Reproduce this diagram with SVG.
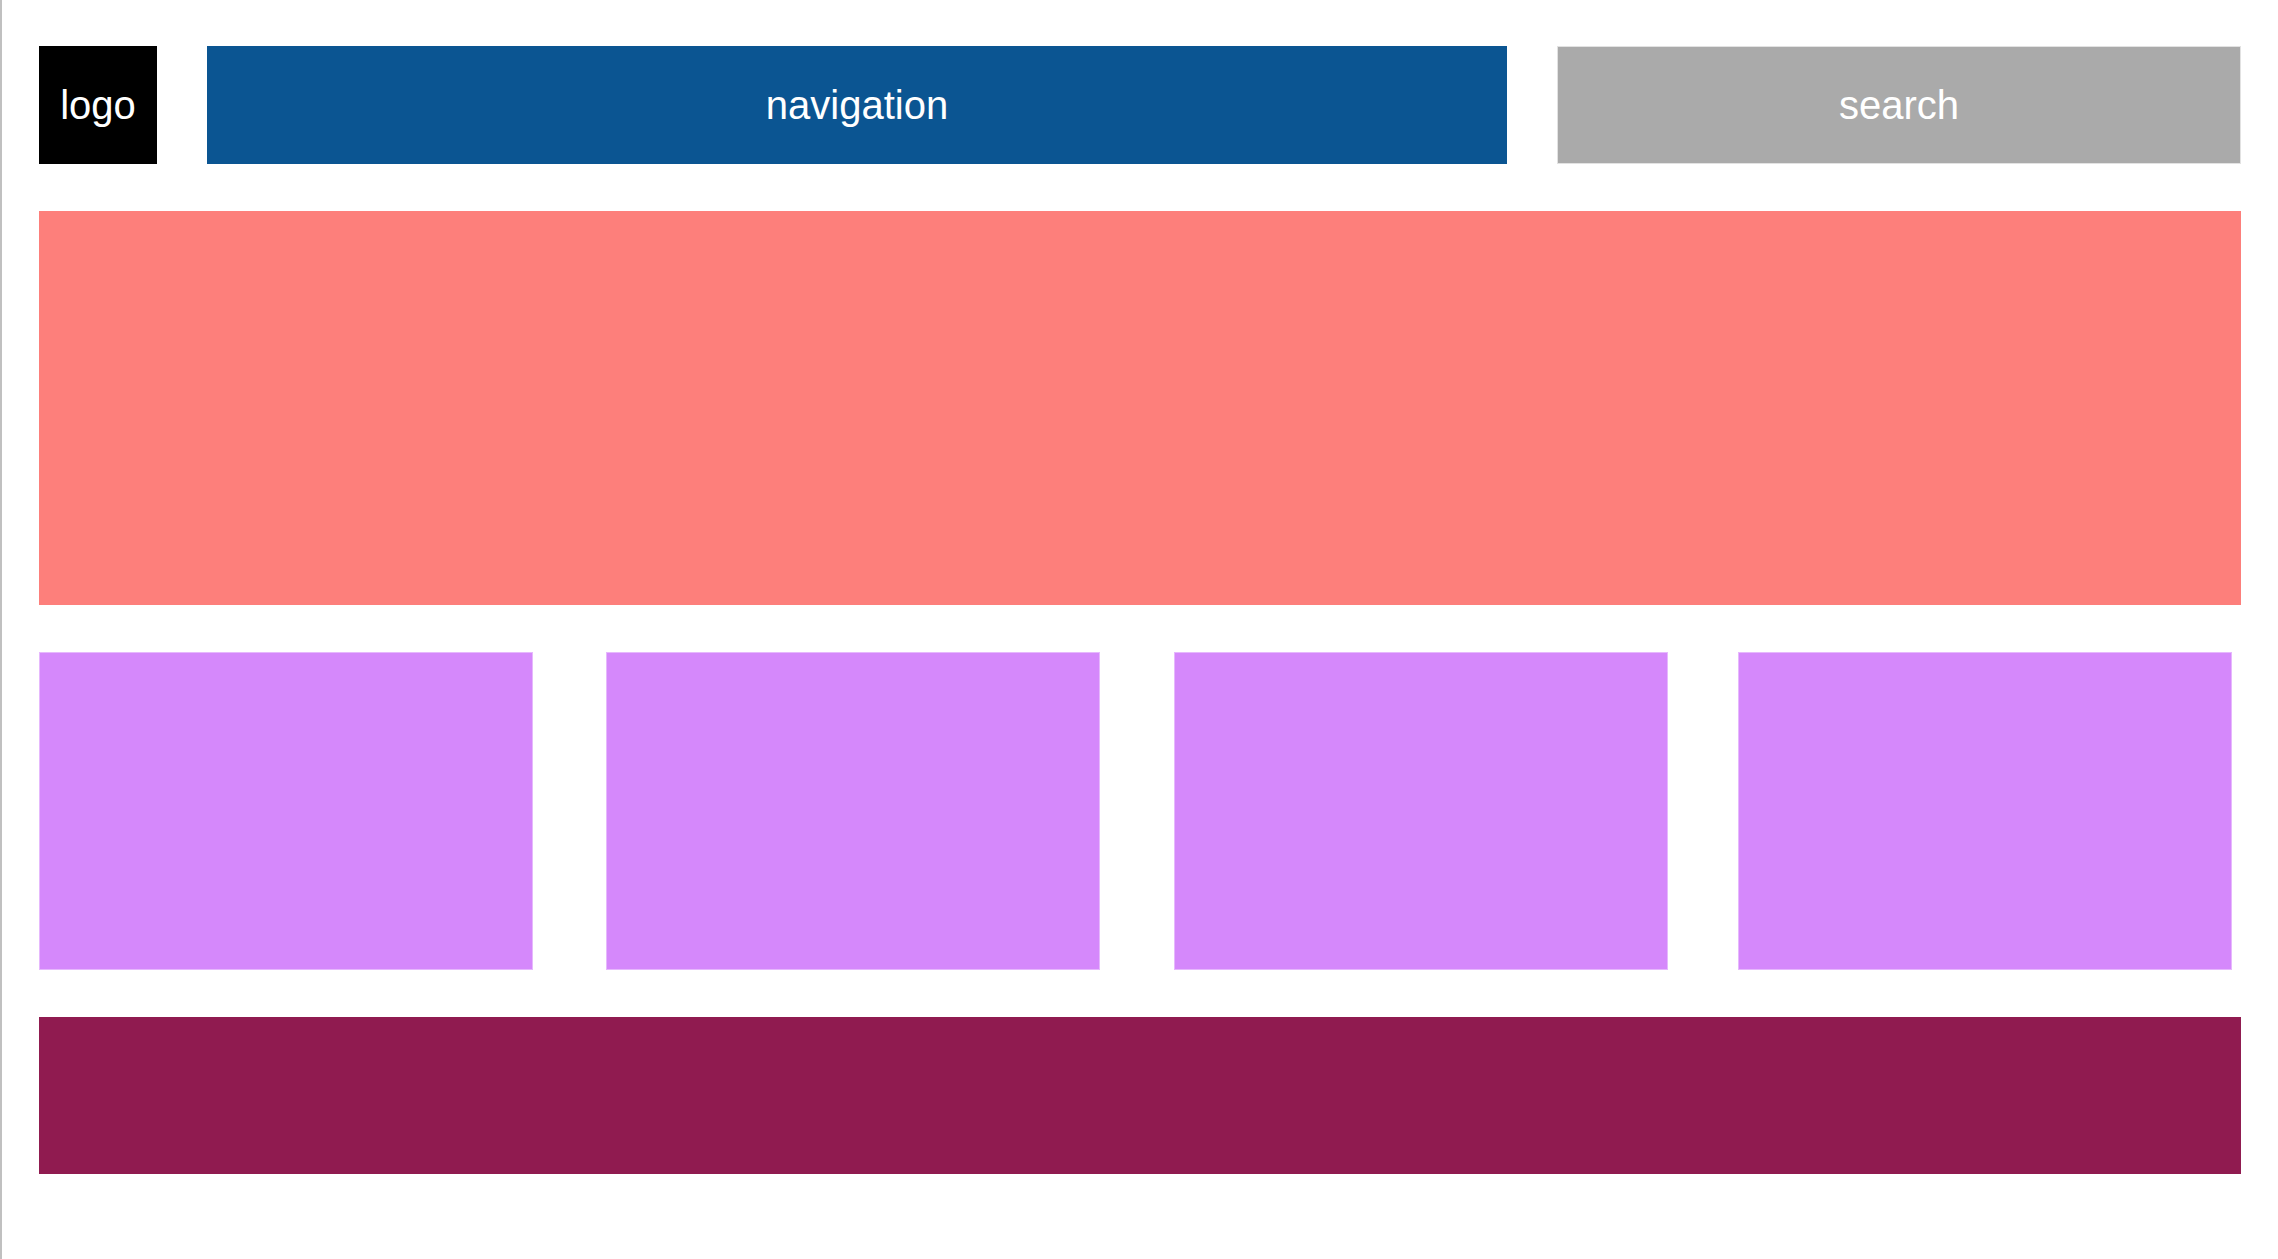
<svg xmlns="http://www.w3.org/2000/svg" width="2278" height="1259" viewBox="0 0 2278 1259">
<style>
.lbl{font-family:"Liberation Sans",Arial,sans-serif;font-size:40px;fill:#fff;text-anchor:middle}
.card{fill:#d588fb;stroke:#e6b8fd;stroke-width:1}
</style>
<rect x="0" y="0" width="2278" height="1259" fill="#fff"/>
<rect x="0" y="0" width="2" height="1259" fill="#c0c0c0"/>
<g id="logo"><rect x="39" y="46" width="118" height="118" fill="#000"/><text class="lbl" x="98" y="119">logo</text></g>
<g id="navigation"><rect x="207" y="46" width="1300" height="118" fill="#0b5592"/><text class="lbl" x="857" y="119">navigation</text></g>
<g id="search"><rect x="1557.5" y="46.5" width="683" height="117" fill="#aaa" stroke="#e2e2e2" stroke-width="1"/><text class="lbl" x="1899" y="119">search</text></g>
<g id="hero"><rect x="39" y="211" width="2202" height="394" fill="#fd7f7b"/></g>
<g id="card1"><rect class="card" x="39.5" y="652.5" width="493" height="317"/></g>
<g id="card2"><rect class="card" x="606.5" y="652.5" width="493" height="317"/></g>
<g id="card3"><rect class="card" x="1174.5" y="652.5" width="493" height="317"/></g>
<g id="card4"><rect class="card" x="1738.5" y="652.5" width="493" height="317"/></g>
<g id="footer"><rect x="39" y="1017" width="2202" height="157" fill="#901b50"/></g>
<g id="connectors"></g>
</svg>
